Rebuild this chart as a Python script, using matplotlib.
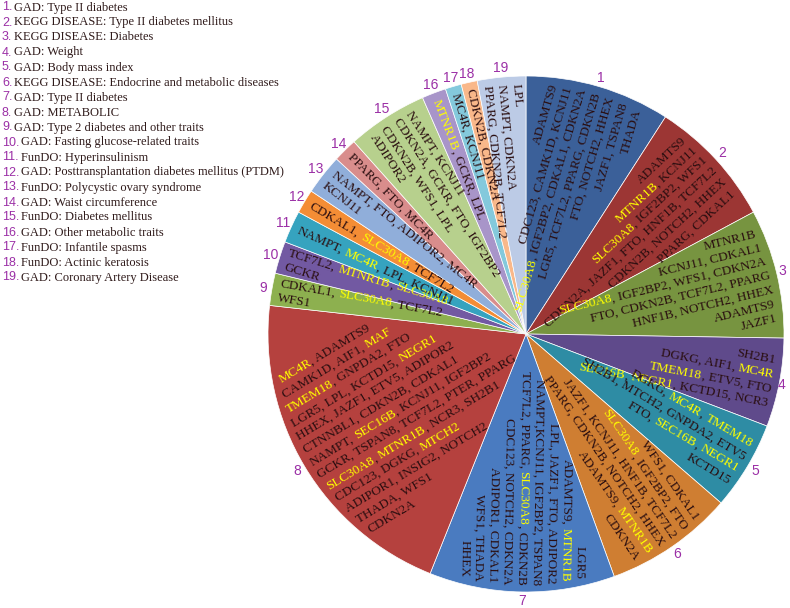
import re
import numpy as np
import matplotlib
matplotlib.use('Agg')
import matplotlib.pyplot as plt
from matplotlib.font_manager import FontProperties

# legend entries (slice number = position + 1)
legend_labels = [
    "GAD: Type II diabetes",
    "KEGG DISEASE: Type II diabetes mellitus",
    "KEGG DISEASE: Diabetes",
    "GAD: Weight",
    "GAD: Body mass index",
    "KEGG DISEASE: Endocrine and metabolic diseases",
    "GAD: Type II diabetes",
    "GAD: METABOLIC",
    "GAD: Type 2 diabetes and other traits",
    "GAD: Fasting glucose-related traits",
    "FunDO: Hyperinsulinism",
    "GAD: Posttransplantation diabetes mellitus (PTDM)",
    "FunDO: Polycystic ovary syndrome",
    "GAD: Waist circumference",
    "FunDO: Diabetes mellitus",
    "GAD: Other metabolic traits",
    "FunDO: Infantile spasms",
    "FunDO: Actinic keratosis",
    "GAD: Coronary Artery Disease",
]

# number of genes in each slice
gene_counts = [18, 16, 16, 11, 11, 16, 23, 41, 4, 4, 4, 3, 5, 3, 10, 3, 2, 2, 6]

slice_colors = ['#3B6099', '#9C3634', '#779440', '#5F4A8B', '#2E8CA4', '#CF7E32',
                '#4A7BC0', '#B5413E', '#8DB04F', '#7259A2', '#36A3BF', '#F48D35',
                '#90AEDA', '#D98D8C', '#B7D08D', '#A895C9', '#84C9DC', '#F9B88A',
                '#BCCBE6']

# gene text per slice, one string per line, *...* = highlighted (yellow)
slice_lines = [
    ["ADAMTS9", "CDC123, CAMK1D, KCNJ11", "*SLC30A8*, IGF2BP2, CDKAL1, CDKN2A",
     "LGR5, TCF7L2, PPARG, CDKN2B", "FTO, NOTCH2, HHEX", "JAZF1, TSPAN8", "THADA"],
    ["ADAMTS9", "*MTNR1B*, KCNJ11", "*SLC30A8*, IGF2BP2, WFS1",
     "CDKN2A, JAZF1, FTO, HNF1B, TCF7L2", "CDKN2B, NOTCH2, HHEX", "PPARG, CDKAL1"],
    ["MTNR1B", "KCNJ11, CDKAL1", "*SLC30A8*, IGF2BP2, WFS1, CDKN2A",
     "FTO, CDKN2B, TCF7L2, PPARG", "HNF1B, NOTCH2, HHEX", "ADAMTS9", "JAZF1"],
    ["SH2B1", "DGKG, AIF1, *MC4R*", "*TMEM18*, ETV5, FTO", "*SEC16B*, *NEGR1*, KCTD15, NCR3"],
    ["DGKG, *MC4R*, *TMEM18*", "SH2B1, MTCH2, GNPDA2, ETV5", "FTO, *SEC16B*, *NEGR1*", "KCTD15"],
    ["WFS1, CDKAL1", "*SLC30A8*, IGF2BP2, FTO", "JAZF1, KCNJ11, HNF1B, TCF7L2",
     "PPARG, CDKN2B, NOTCH2, HHEX", "ADAMTS9, *MTNR1B*", "CDKN2A"],
    ["LGR5", "ADAMTS9, *MTNR1B*", "LPL, JAZF1, FTO, ADIPOR2", "NAMPT,KCNJ11, IGF2BP2, TSPAN8",
     "TCF7L2, PPARG, *SLC30A8*, CDKN2B", "CDC123, NOTCH2, CDKN2A", "ADIPOR1, CDKAL1",
     "WFS1, THADA", "HHEX"],
    ["*MC4R*, ADAMTS9", "CAMK1D, AIF1, *MAF*", "*TMEM18*, GNPDA2, FTO",
     "LGR5, LPL, KCTD15, *NEGR1*", "HHEX, JAZF1, ETV5, ADIPOR2", "CTNNBL1, CDKN2B, CDKAL1",
     "NAMPT, *SEC16B*, KCNJ11, IGF2BP2", "GCKR, TSPAN8, TCF7L2, PTER, PPARG",
     "*SLC30A8*, *MTNR1B*, NCR3, SH2B1", "CDC123, DGKG, *MTCH2*", "ADIPOR1, INSIG2, NOTCH2",
     "THADA, WFS1", "CDKN2A"],
    ["CDKAL1, *SLC30A8*, TCF7L2", "WFS1"],
    ["TCF7L2, *MTNR1B*, *SLC30A8*", "GCKR"],
    ["NAMPT, *MC4R*, LPL, KCNJ11"],
    ["CDKAL1, *SLC30A8*, TCF7L2"],
    ["NAMPT, FTO, ADIPOR2, MC4R", "KCNJ11"],
    ["PPARG, FTO, MC4R"],
    ["NAMPT, KCNJ11", "CDKN2A, GCKR, FTO, IGF2BP2", "CDKN2B, WFS1, LPL", "ADIPOR2"],
    ["*MTNR1B*, GCKR, LPL"],
    ["MC4R, KCNJ11"],
    ["CDKN2B, CDKN2A"],
    ["LPL", "NAMPT, CDKN2A", "PPARG, CDKN2B, TCF7L2"],
]

purple = '#9B2FA6'
dark = '#2A0E10'
yellow = '#FFFF00'

fig = plt.figure(figsize=(7.9, 6.08), dpi=100)
ax = fig.add_axes([0, 0, 1, 1])

cx, cy, R = 526, 274, 258
ax.pie(gene_counts, colors=slice_colors, startangle=90, counterclock=False,
       center=(cx, cy), radius=R, wedgeprops=dict(edgecolor='white', linewidth=0.5))
ax.set_xlim(0, 790)
ax.set_ylim(0, 608)
ax.set_aspect('equal')
ax.axis('off')

renderer = fig.canvas.get_renderer()
gene_font = FontProperties(family='Liberation Serif', size=9.5)


def width(s):
    w, h, d = renderer.get_text_width_height_descent(s, gene_font, ismath=False)
    return w


total = sum(gene_counts)
edges = np.concatenate([[0], np.cumsum(gene_counts)]) * 360.0 / total
mids = (edges[:-1] + edges[1:]) / 2

spacing = 14.5
r_text = 251
for k, lines in enumerate(slice_lines):
    th = np.radians(mids[k])
    u = np.array([np.sin(th), np.cos(th)])
    phi = 90 - mids[k]
    outward = mids[k] < 185
    if outward:
        rot = phi
        t = u
    else:
        rot = phi + 180
        t = -u
    v = np.array([-t[1], t[0]])
    n = len(lines)
    for i, line in enumerate(lines):
        d = ((n - 1) / 2 - i) * spacing
        a = np.sqrt(r_text ** 2 - d ** 2)
        rim = np.array([cx, cy]) + a * u + d * v
        parts = [p for p in re.split(r'(\*[^*]+\*)', line) if p]
        plain = line.replace('*', '')
        W = width(plain)
        start = rim - W * t if outward else rim
        start = start - 3.6 * v
        prefix = ''
        for p in parts:
            hi = p.startswith('*')
            s = p.strip('*')
            off = width(prefix + s) - width(s) if prefix else 0
            pos = start + off * t
            ax.text(pos[0], pos[1], s.rstrip(), rotation=rot, rotation_mode='anchor',
                    ha='left', va='baseline', fontproperties=gene_font,
                    color=yellow if hi else dark)
            prefix += s

# slice numbers around the pie
for k, m in enumerate(mids):
    th = np.radians(m)
    lx = min(cx + (R + 9) * np.sin(th), 782)
    ly = max(cy + (R + 9) * np.cos(th), 7)
    ax.text(lx, ly, str(k + 1), ha='center', va='center', color=purple,
            fontsize=10, family='Liberation Sans')

# legend list
for i, lab in enumerate(legend_labels):
    y = 608 - (7 + 15 * i) - 3.5
    ax.text(2, y, f"{i + 1}.", ha='left', va='baseline', color=purple,
            fontsize=9, family='Liberation Sans')
    ax.text(14 if i < 9 else 21, y, lab, ha='left', va='baseline', color='#2F1A1A',
            fontsize=9, family='Liberation Serif')

fig.savefig('out.png', dpi=100)
